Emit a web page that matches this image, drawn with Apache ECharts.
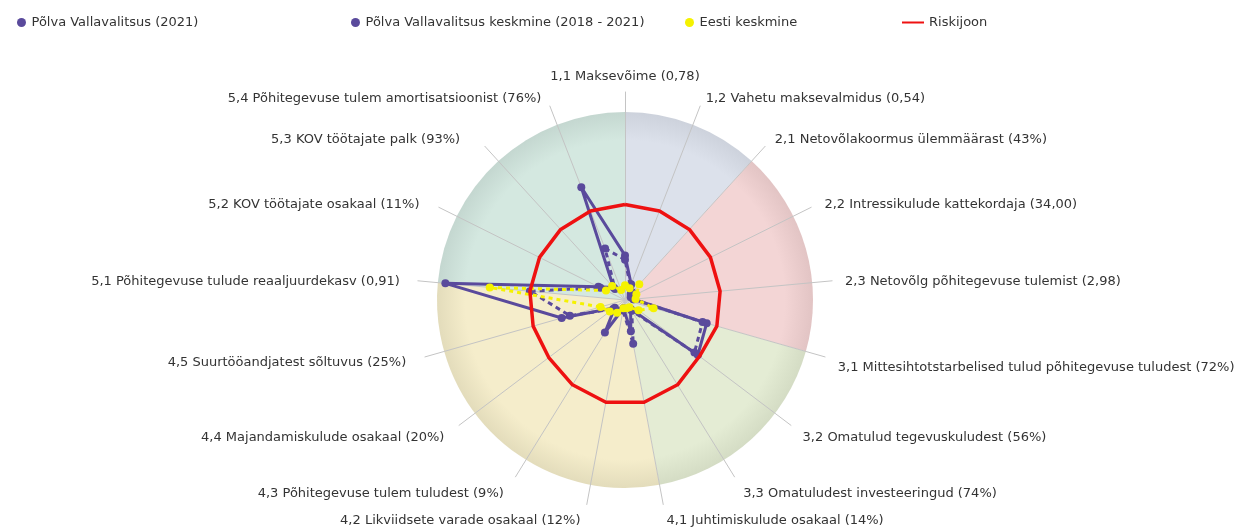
<!DOCTYPE html>
<html>
<head>
<meta charset="utf-8">
<script src="https://cdn.jsdelivr.net/npm/echarts@6/dist/echarts.min.js"></script>
<style>
  html, body { margin: 0; padding: 0; background: #fff; }
  #chart { width: 1249px; height: 531px; }
</style>
</head>
<body>
<div id="chart"></div>
<script>
  // indicators, clockwise from the top
  var indicatorNames = [
    '1,1 Maksevõime (0,78)',
    '1,2 Vahetu maksevalmidus (0,54)',
    '2,1 Netovõlakoormus ülemmäärast (43%)',
    '2,2 Intressikulude kattekordaja (34,00)',
    '2,3 Netovõlg põhitegevuse tulemist (2,98)',
    '3,1 Mittesihtotstarbelised tulud põhitegevuse tuludest (72%)',
    '3,2 Omatulud tegevuskuludest (56%)',
    '3,3 Omatuludest investeeringud (74%)',
    '4,1 Juhtimiskulude osakaal (14%)',
    '4,2 Likviidsete varade osakaal (12%)',
    '4,3 Põhitegevuse tulem tuludest (9%)',
    '4,4 Majandamiskulude osakaal (20%)',
    '4,5 Suurtööandjatest sõltuvus (25%)',
    '5,1 Põhitegevuse tulude reaaljuurdekasv (0,91)',
    '5,2 KOV töötajate osakaal (11%)',
    '5,3 KOV töötajate palk (93%)',
    '5,4 Põhitegevuse tulem amortisatsioonist (76%)'
  ]
  // number of indicators in each group (background sectors)
  var groupSizes = [2, 3, 3, 5, 4]
  var groupNames = ['1', '2', '3', '4', '5']

  var seriesNames = ['Põlva Vallavalitsus (2021)', 'Põlva Vallavalitsus keskmine (2018 - 2021)', 'Eesti keskmine', 'Riskijoon']
  var polva2021 = [21, 8, 4, 3, 4, 40, 43, 5, 15, 4, 18, 6, 31, 85, 14, 8, 57]
  var polvaAvg = [19, 7, 5, 4, 4, 38, 41, 6, 21, 5, 6, 7, 27, 45, 13, 7, 26]
  var eestiAvg = [7, 6, 10, 6, 5, 14, 8, 4, 4, 4, 7, 9, 12, 64, 10, 9, 5]
  var riskLine = [45, 45, 45, 45, 45, 45, 44, 47, 49, 49, 47, 45, 45, 45, 45, 45, 45]

  var colors = ['#5a4a9c', '#5a4a9c', '#f5f200', '#ee1111']
  var sectorColors = [
    ['#dce1eb', '#cdd2dc'],
    ['#f3d5d5', '#e2c4c4'],
    ['#e4ecd4', '#d4dcc4'],
    ['#f5edcb', '#e3dcbb'],
    ['#d4e8e0', '#c4d7d0']
  ]
  // extra nudge of each axis name [right, down], px
  var nameNudge = [
    [0, -2], [3, -2], [5, -2], [7, 0], [6, 2], [6, 18], [6, 17], [5, 22], [2, 18],
    [-5, 18], [-8, 22], [-9, 17], [-12, 8], [-11, 2], [-13, 0], [-20, -2], [-6, -2]
  ]

  var cx = 625, cy = 300
  var font = 'DejaVu Sans'

  // echarts radar goes counter-clockwise, so flip the order
  var order = [0]
  for (var k = indicatorNames.length - 1; k > 0; k--) order.push(k)
  function reorder(arr) { return order.map(function (i) { return arr[i] }) }

  var rich = {}
  nameNudge.forEach(function (d, i) {
    rich['p' + i] = {
      color: '#333', fontSize: 13, fontFamily: font,
      padding: [Math.max(d[1], 0), Math.max(-d[0], 0), Math.max(-d[1], 0), Math.max(d[0], 0)]
    }
  })

  var chart = echarts.init(document.getElementById('chart'))

  var legendLefts = [12, 346, 680, 897]
  var legends = seriesNames.map(function (n, i) {
    return {
      data: [n],
      left: legendLefts[i],
      top: 11,
      itemWidth: i === 3 ? 22 : 10,
      itemHeight: i === 3 ? 2 : 9,
      icon: i === 3 ? 'rect' : 'circle',
      selectedMode: false,
      textStyle: { color: '#333', fontSize: 13, fontFamily: font }
    }
  })

  var pieData = groupSizes.map(function (s, i) {
    return {
      name: groupNames[i],
      value: s,
      itemStyle: {
        color: {
          type: 'radial', x: cx, y: cy, r: 188, global: true,
          colorStops: [
            { offset: 0, color: sectorColors[i][0] },
            { offset: 0.85, color: sectorColors[i][0] },
            { offset: 1, color: sectorColors[i][1] }
          ]
        }
      }
    }
  })

  var lineStyles = [
    { width: 3 },
    { width: 3, type: [5, 4] },
    { width: 3, type: [4, 4] },
    { width: 3.5 }
  ]
  var values = [polva2021, polvaAvg, eestiAvg, riskLine]

  chart.setOption({
    animation: false,
    legend: legends,
    radar: {
      center: [cx, cy],
      radius: 208,
      startAngle: 90,
      shape: 'polygon',
      splitNumber: 1,
      z: 1,
      nameGap: 7,
      indicator: reorder(indicatorNames).map(function (n) { return { name: n, max: 98, min: 0 } }),
      axisName: {
        color: '#333', fontSize: 13, fontFamily: font,
        formatter: function (name) {
          return '{p' + indicatorNames.indexOf(name) + '|' + name + '}'
        },
        rich: rich
      },
      axisLine: { lineStyle: { color: '#c4c4c4', width: 1 } },
      splitLine: { show: false },
      splitArea: { show: false }
    },
    series: [
      {
        type: 'pie',
        z: 0,
        silent: true,
        center: [cx, cy],
        radius: [0, 188],
        startAngle: 90,
        clockwise: true,
        label: { show: false },
        labelLine: { show: false },
        legendHoverLink: false,
        data: pieData
      }
    ].concat(values.map(function (v, i) {
      return {
        type: 'radar',
        name: seriesNames[i],
        z: 2 + i,
        symbol: i === 3 ? 'none' : 'circle',
        symbolSize: 8,
        itemStyle: { color: colors[i] },
        lineStyle: Object.assign({ color: colors[i] }, lineStyles[i]),
        data: [{ name: seriesNames[i], value: reorder(v) }]
      }
    }))
  })
</script>
</body>
</html>
